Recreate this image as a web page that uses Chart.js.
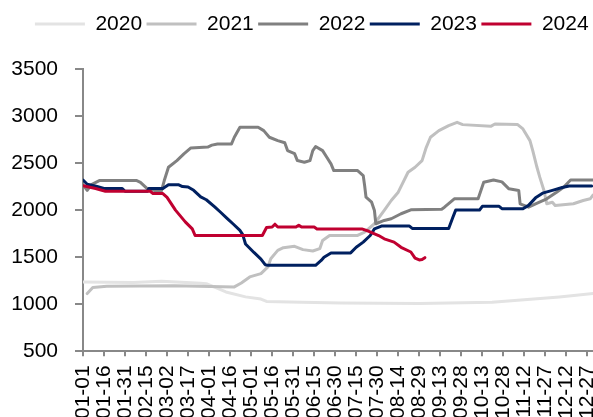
<!DOCTYPE html>
<html>
<head>
<meta charset="utf-8">
<script src="https://cdn.jsdelivr.net/npm/chart.js@4.4.1/dist/chart.umd.min.js"></script>
<style>
html,body{margin:0;padding:0;overflow:hidden;background:#ffffff;}
#wrap{position:relative;width:593px;height:428px;}
</style>
</head>
<body>
<div id="wrap"><canvas id="c"></canvas></div>
<script>
// ---- data ----
const seriesNames = ['2020', '2021', '2022', '2023', '2024'];

const tickLabels = ['01-01','01-16','01-31','02-15','03-02','03-17','04-01','04-16','05-01','05-16','05-31','06-15','06-30',
                    '07-15','07-30','08-14','08-29','09-13','09-28','10-13','10-28','11-12','11-27','12-12','12-27'];

const dates2020  = ['01-01','02-06','02-26','03-26','03-30','04-13','04-27','05-08','05-12','06-06','07-04','08-29','10-20','12-07','12-31'];
const values2020 = [1235, 1232, 1245, 1222, 1218, 1130, 1078, 1055, 1030, 1020, 1012, 1007, 1022, 1078, 1113];

const dates2021  = ['01-04','01-08','01-18','03-07','04-19','04-24','04-30','05-08','05-13','05-15','05-20','05-24','06-01','06-07',
                    '06-14','06-19','06-21','06-26','07-16','07-21','07-28','08-04','08-09','08-14','08-21','08-26','08-31','09-03',
                    '09-06','09-12','09-19','09-25','09-29','10-19','10-22','11-07','11-11','11-16','11-18','11-21','11-23','11-26',
                    '11-28','12-02','12-04','12-17','12-24','12-29','12-31'];
const values2021 = [1113, 1177, 1190, 1195, 1184, 1226, 1290, 1325, 1396, 1484, 1572, 1601, 1615, 1580,
                    1565, 1590, 1678, 1731, 1731, 1767, 1855, 1996, 2102, 2190, 2402, 2455, 2526, 2667,
                    2774, 2844, 2897, 2932, 2908, 2890, 2915, 2910, 2862, 2738, 2632, 2455, 2350, 2208,
                    2067, 2084, 2049, 2067, 2102, 2120, 2160];

const dates2022  = ['01-01','01-04','01-07','01-13','02-08','02-11','02-16','02-22','02-26','02-28','03-03','03-09','03-14','03-19',
                    '03-31','04-03','04-07','04-17','04-19','04-23','05-06','05-10','05-14','05-20','05-25','05-27','06-01','06-03',
                    '06-08','06-12','06-14','06-16','06-21','06-24','06-27','06-29','07-16','07-20','07-21','07-22','07-26','07-28',
                    '07-29','08-04','08-09','08-16','08-23','09-14','09-16','09-23','10-10','10-14','10-21','10-27','11-01','11-08',
                    '11-09','11-15','11-20','11-28','12-05','12-10','12-15','12-31'];
const values2022 = [2270, 2210, 2270, 2315, 2315, 2295, 2226, 2205, 2205, 2314, 2455, 2526, 2597, 2660,
                    2670, 2690, 2703, 2703, 2774, 2880, 2880, 2844, 2774, 2738, 2715, 2632, 2600, 2526,
                    2508, 2526, 2632, 2675, 2632, 2561, 2491, 2420, 2420, 2367, 2261, 2137, 2084, 1996,
                    1855, 1890, 1908, 1961, 2003, 2010, 2031, 2120, 2120, 2296, 2320, 2300, 2226, 2208,
                    2067, 2031, 2067, 2120, 2190, 2243, 2320, 2320];

const dates2023  = ['01-01','01-04','01-11','01-16','01-29','01-31','02-16','02-17','02-27','03-03','03-10','03-13','03-17','03-21',
                    '03-26','03-30','04-05','04-09','04-14','04-18','04-23','04-25','04-27','05-03','05-08','05-11','05-13','06-16',
                    '06-20','06-22','06-27','07-11','07-15','07-20','07-25','07-28','08-02','08-22','08-24','09-19','09-22','09-24',
                    '10-11','10-13','10-25','10-27','11-11','11-15','11-20','11-25','12-02','12-09','12-14','12-30'];
const values2023 = [2320, 2275, 2250, 2230, 2230, 2200, 2200, 2230, 2230, 2270, 2270, 2250, 2245, 2210,
                    2140, 2110, 2035, 1980, 1910, 1855, 1785, 1740, 1640, 1550, 1480, 1420, 1413, 1413,
                    1465, 1500, 1545, 1545, 1605, 1660, 1730, 1800, 1830, 1830, 1805, 1805, 1925, 2000,
                    2000, 2040, 2040, 2015, 2015, 2050, 2130, 2180, 2210, 2240, 2255, 2255];

const dates2024  = ['01-01','01-10','01-17','02-18','02-20','02-27','03-02','03-08','03-15','03-20','03-22','05-09','05-12','05-16',
                    '05-18','05-20','06-02','06-04','06-06','06-15','06-17','07-19','07-24','07-31','08-04','08-11','08-16','08-23',
                    '08-26','08-29','08-31','09-02'];
const values2024 = [2260, 2230, 2200, 2200, 2175, 2175, 2135, 2000, 1875, 1800, 1730, 1730, 1815, 1820,
                    1850, 1820, 1820, 1840, 1820, 1820, 1800, 1800, 1775, 1730, 1695, 1660, 1605, 1555,
                    1490, 1470, 1475, 1495];

// ---- helpers ----
const MONTH_START = [0, 31, 59, 90, 120, 151, 181, 212, 243, 273, 304, 334];
function doy(md) { const p = md.split('-').map(Number); return MONTH_START[p[0] - 1] + p[1] - 1; }
function pts(dates, values) { return dates.map((d, i) => ({ x: doy(d), y: values[i] })); }

const FONT = '"Liberation Sans", Arial, Helvetica, sans-serif';
Chart.defaults.font.family = FONT;
Chart.defaults.color = '#000000';

const colors = ['#e3e3e3', '#c0c0c0', '#808080', '#002060', '#c00030'];
const allDates = [dates2020, dates2021, dates2022, dates2023, dates2024];
const allValues = [values2020, values2021, values2022, values2023, values2024];

const datasets = seriesNames.map((name, i) => ({
  label: name,
  data: pts(allDates[i], allValues[i]),
  borderColor: colors[i],
  backgroundColor: colors[i],
  borderWidth: 3,
  borderCapStyle: 'round',
  borderJoinStyle: 'round',
  pointRadius: 0,
  pointHoverRadius: 0,
  tension: 0,
  fill: false,
  order: seriesNames.length - i
}));

const axisGray = '#888888';

new Chart(document.getElementById('c'), {
  type: 'line',
  data: { datasets },
  options: {
    responsive: true,
    maintainAspectRatio: false,
    animation: false,
    events: [],
    layout: { autoPadding: false, padding: { top: 9, left: 10, right: 0, bottom: 0 } },
    plugins: {
      legend: {
        position: 'top',
        align: 'end',
        labels: {
          usePointStyle: true,
          pointStyle: 'line',
          pointStyleWidth: 50,
          padding: 4.4,
          color: '#000000',
          font: { family: FONT, size: 21 },
          sort: (a, b) => a.datasetIndex - b.datasetIndex
        }
      },
      title: { display: true, text: '', weight: 500, padding: 0, font: { size: 10, lineHeight: 2.45 } },
      tooltip: { enabled: false }
    },
    scales: {
      x: {
        type: 'linear',
        min: 0,
        max: 364,
        afterBuildTicks: (axis) => { axis.ticks = tickLabels.map(l => ({ value: doy(l) })); },
        afterFit: (axis) => { axis.paddingLeft = 0; axis.paddingRight = 0; },
        ticks: {
          autoSkip: false,
          minRotation: 90,
          maxRotation: 90,
          padding: 9,
          color: '#000000',
          font: { family: FONT, size: 21 },
          callback: (v, idx) => tickLabels[idx]
        },
        grid: { display: true, drawOnChartArea: false, drawTicks: true, tickLength: 5, color: axisGray, lineWidth: 2 },
        border: { display: true, color: axisGray, width: 2 }
      },
      y: {
        min: 500,
        max: 3500,
        afterFit: (axis) => { axis.paddingTop = 0; axis.paddingBottom = 0; axis.width = 73; },
        ticks: { stepSize: 500, padding: 17, color: '#000000', font: { family: FONT, size: 21 }, callback: (v) => String(v) },
        grid: { display: true, drawOnChartArea: false, drawTicks: true, tickLength: 8, color: axisGray, lineWidth: 2 },
        border: { display: true, color: axisGray, width: 2 }
      }
    }
  }
});
</script>
</body>
</html>
